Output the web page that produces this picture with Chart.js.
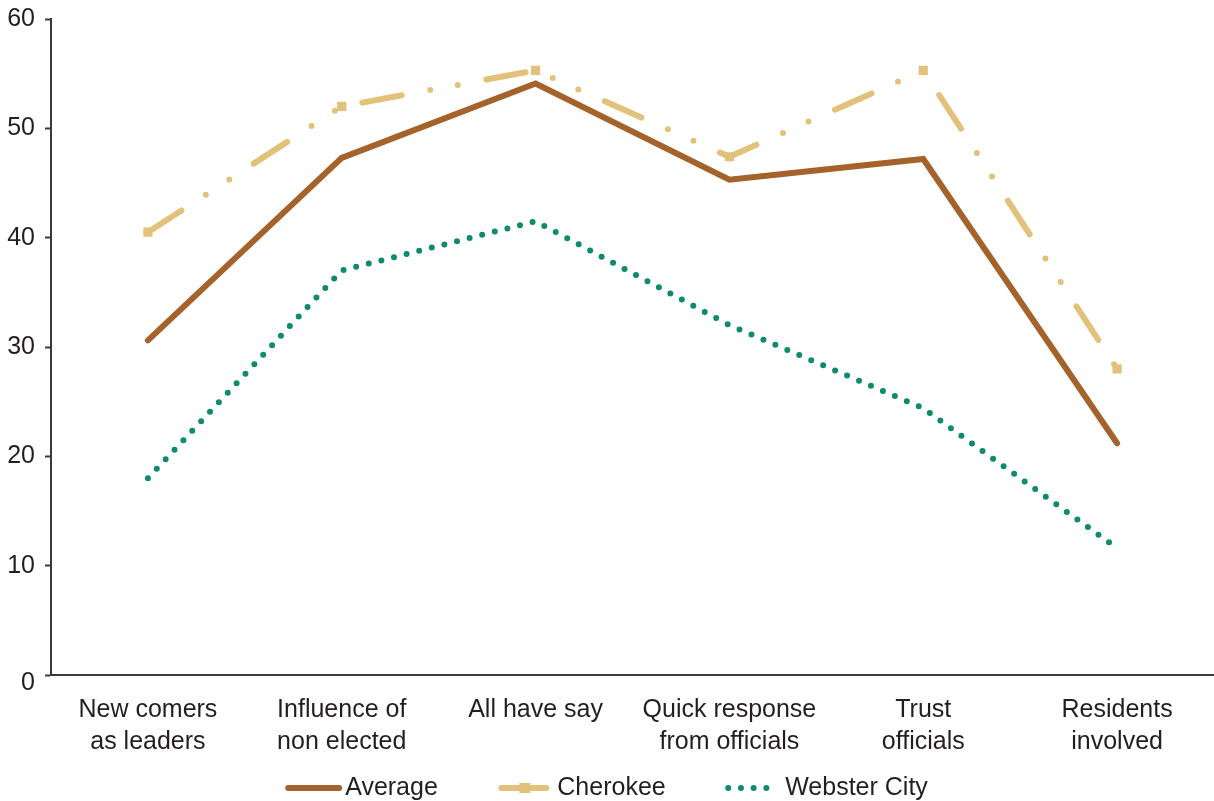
<!DOCTYPE html>
<html>
<head>
<meta charset="utf-8">
<script src="https://cdn.jsdelivr.net/npm/chart.js@4/dist/chart.umd.min.js"></script>
<style>
  html, body { margin: 0; padding: 0; background: #ffffff; }
  canvas { display: block; }
</style>
</head>
<body>
<canvas id="chart" width="1214" height="801"></canvas>
<script>
// Survey items (multi-line category labels)
const categories = [
  ['New comers', 'as leaders'],
  ['Influence of', 'non elected'],
  ['All have say'],
  ['Quick response', 'from officials'],
  ['Trust', 'officials'],
  ['Residents', 'involved']
];

// Percent agreeing, by community
const averageValues  = [30.6, 47.3, 54.1, 45.3, 47.2, 21.2];
const cherokeeValues = [40.5, 52.0, 55.3, 47.4, 55.3, 28.0];
const websterValues  = [18.0, 37.0, 41.5, 32.0, 24.4, 11.6];

const seriesNames = ['Average', 'Cherokee', 'Webster City'];

// Value axis range
const yMin = 0;
const yMax = 60;
const yStep = 10;

const FONT = '"Liberation Sans", Arial, Helvetica, sans-serif';
const TEXT = '#231f20';
const AXIS = '#3a3a3a';
const BROWN = '#a5622a';
const SAND = '#e2c27b';
const TEAL = '#0e8a6e';

// Legend swatches are small canvases used as point styles
const LEGEND_BOX = 87.5;
function legendIcon(draw) {
  const cv = document.createElement('canvas');
  cv.width = 200;
  cv.height = 20;
  const g = cv.getContext('2d');
  draw(g, LEGEND_BOX / 2 + 52.5, 10);
  return cv;
}
const legendIcons = [
  legendIcon((g, lx, cy) => {
    g.strokeStyle = BROWN; g.lineWidth = 6; g.lineCap = 'round';
    g.beginPath(); g.moveTo(lx + 3, cy); g.lineTo(lx + 54, cy); g.stroke();
  }),
  legendIcon((g, lx, cy) => {
    g.strokeStyle = SAND; g.fillStyle = SAND; g.lineWidth = 6; g.lineCap = 'round';
    g.beginPath(); g.moveTo(lx + 4, cy); g.lineTo(lx + 49, cy); g.stroke();
    g.fillRect(lx + 22, cy - 5, 11, 10);
  }),
  legendIcon((g, lx, cy) => {
    g.fillStyle = TEAL;
    for (let i = 0; i < 4; i++) {
      g.beginPath(); g.arc(lx + 3 + i * 12.7, cy, 3, 0, Math.PI * 2); g.fill();
    }
  })
];

// Moves the centred legend row a little to the left
const legendShift = {
  id: 'legendShift',
  afterLayout(chart) { chart.legend.left -= 48; }
};

new Chart(document.getElementById('chart'), {
  type: 'line',
  data: {
    labels: categories,
    datasets: [
      {
        label: seriesNames[0],
        data: averageValues,
        borderColor: BROWN,
        backgroundColor: BROWN,
        borderWidth: 6,
        borderCapStyle: 'round',
        borderJoinStyle: 'miter',
        pointRadius: 0,
        tension: 0,
        fill: false
      },
      {
        label: seriesNames[1],
        data: cherokeeValues,
        borderColor: SAND,
        backgroundColor: SAND,
        borderWidth: 6,
        borderDash: [40, 29, 0, 28, 0, 29],
        borderCapStyle: 'round',
        borderJoinStyle: 'round',
        pointStyle: 'rect',
        pointRadius: 6.5,
        pointBackgroundColor: SAND,
        pointBorderWidth: 0,
        tension: 0,
        fill: false
      },
      {
        label: seriesNames[2],
        data: websterValues,
        borderColor: TEAL,
        backgroundColor: TEAL,
        borderWidth: 6,
        borderDash: [0, 13],
        borderCapStyle: 'round',
        borderJoinStyle: 'round',
        pointRadius: 0,
        tension: 0,
        fill: false
      }
    ]
  },
  plugins: [legendShift],
  options: {
    responsive: false,
    devicePixelRatio: 1,
    animation: false,
    events: [],
    layout: { autoPadding: false, padding: { top: 19, left: 7, right: 0, bottom: 0 } },
    plugins: {
      tooltip: { enabled: false },
      legend: {
        display: true,
        position: 'bottom',
        maxHeight: 45,
        labels: {
          usePointStyle: true,
          pointStyleWidth: LEGEND_BOX,
          padding: 19.5,
          color: TEXT,
          font: { family: FONT, size: 25 },
          generateLabels(chart) {
            const items = Chart.defaults.plugins.legend.labels.generateLabels(chart);
            items.forEach((it, i) => { it.pointStyle = legendIcons[i]; it.fontColor = TEXT; });
            return items;
          }
        }
      }
    },
    scales: {
      x: {
        type: 'category',
        offset: true,
        afterFit(scale) { scale.height = 81; scale.paddingLeft = 0; scale.paddingRight = 0; },
        grid: { display: true, drawOnChartArea: false, drawTicks: false },
        border: { display: true, color: AXIS, width: 2 },
        ticks: {
          color: TEXT,
          font: { family: FONT, size: 25, lineHeight: 1.28 },
          padding: 19,
          maxRotation: 0,
          autoSkip: false
        }
      },
      y: {
        min: yMin,
        max: yMax,
        afterFit(scale) { scale.width = 44; scale.paddingTop = 0; scale.paddingBottom = 0; },
        grid: { drawOnChartArea: false, drawTicks: true, tickLength: 6, tickColor: AXIS, tickWidth: 2 },
        border: { display: true, color: AXIS, width: 2 },
        ticks: {
          stepSize: yStep,
          color: TEXT,
          // the zero label sits a little below the baseline
          callback: (value) => (value === 0 ? ['', '0'] : value),
          font: (ctx) => ({
            family: FONT,
            size: 25,
            lineHeight: ctx.tick && ctx.tick.value === 0 ? 0.68 : 1.2
          }),
          padding: 10
        }
      }
    }
  }
});
</script>
</body>
</html>
